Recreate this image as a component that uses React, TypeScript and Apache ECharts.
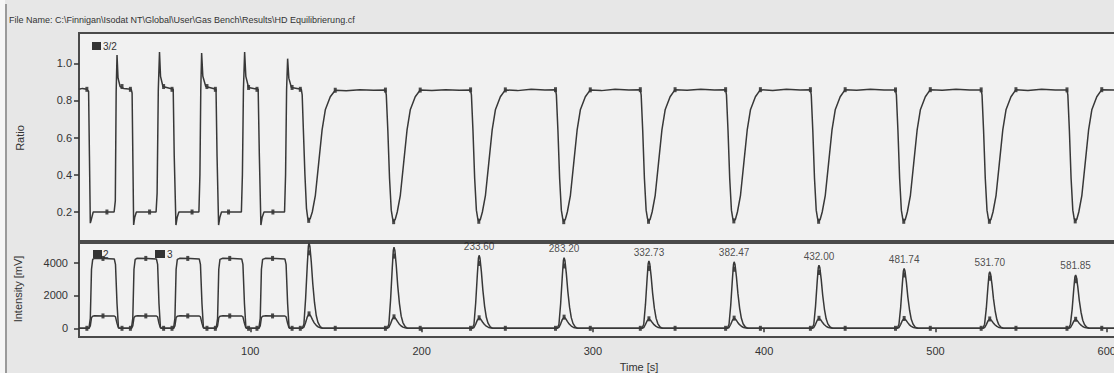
import React, { useEffect, useRef } from "react";
import * as echarts from "echarts";

// ---------- data ----------
const fileName = "File Name: C:\\Finnigan\\Isodat NT\\Global\\User\\Gas Bench\\Results\\HD Equilibrierung.cf";

const xTicks = [100, 200, 300, 400, 500, 600];
const ratioTicks = [0.2, 0.4, 0.6, 0.8, 1.0];
const intensityTicks = [0, 2000, 4000];

// ratio 3/2 : square-wave part (reference pulses)
const ratioSquare: number[][] = [
  [0, 0.86], [2, 0.865], [4.5, 0.86], [5.6, 0.85], [6.1, 0.5], [6.6, 0.14], [7.2, 0.16], [8.3, 0.2], [14, 0.2], [20.5, 0.2],
  [21.2, 0.26], [21.7, 0.85], [22.2, 1.045], [22.8, 0.92], [24, 0.875], [26, 0.865], [30.5, 0.86],
  [31.0, 0.84], [31.5, 0.45], [31.9, 0.13], [32.5, 0.17], [33.5, 0.2], [45.0, 0.2],
  [45.6, 0.3], [46.3, 0.86], [47.0, 1.06], [47.6, 0.93], [49, 0.875], [55.0, 0.86],
  [55.6, 0.5], [56.6, 0.13], [57.3, 0.17], [58.3, 0.2], [70.0, 0.2],
  [70.6, 0.4], [71.1, 0.86], [71.6, 1.055], [72.3, 0.93], [74, 0.875], [80.0, 0.86],
  [80.6, 0.5], [81.5, 0.13], [82.2, 0.17], [83.2, 0.2], [94.8, 0.2],
  [95.4, 0.4], [96.0, 0.86], [96.7, 1.06], [97.4, 0.93], [99, 0.87], [104.6, 0.86],
  [105.3, 0.5], [106.2, 0.13], [106.9, 0.17], [108, 0.2], [120.0, 0.2],
  [120.6, 0.4], [121.2, 0.86], [121.8, 1.025], [122.5, 0.92], [124, 0.87], [129.8, 0.86],
];

// ratio 3/2 : sample peaks (dips)
const ratioDips: number[][] = [
  [130.3, 0.83], [131.0, 0.64], [131.9, 0.4], [132.8, 0.22], [133.5, 0.17], [134.1, 0.155], [135.0, 0.165], [136.2, 0.2], [138.0, 0.29], [139.9, 0.46], [141.9, 0.64], [143.8, 0.75], [146.7, 0.82], [149.6, 0.855], [156, 0.852], [164, 0.858], [172, 0.855],
  [178.9, 0.856], [179.4, 0.83], [180.3, 0.64], [181.3, 0.38], [182.3, 0.21], [183.1, 0.165], [183.7, 0.148], [184.6, 0.16], [185.8, 0.2], [187.6, 0.29], [189.5, 0.46], [191.5, 0.64], [193.4, 0.75], [196.3, 0.82], [199.2, 0.856], [206, 0.853], [214, 0.858], [222, 0.855],
  [228.6, 0.857], [229.1, 0.83], [230.0, 0.64], [231.0, 0.38], [232.0, 0.21], [232.8, 0.165], [233.4, 0.15], [234.3, 0.16], [235.5, 0.2], [237.3, 0.29], [239.2, 0.46], [241.2, 0.64], [243.1, 0.75], [246.0, 0.82], [248.9, 0.857], [256, 0.853], [264, 0.86], [272, 0.856],
  [278.2, 0.858], [278.7, 0.83], [279.6, 0.64], [280.6, 0.38], [281.6, 0.21], [282.4, 0.165], [283.0, 0.148], [283.9, 0.16], [285.1, 0.2], [286.9, 0.29], [288.8, 0.46], [290.8, 0.64], [292.7, 0.75], [295.6, 0.82], [298.5, 0.857], [305, 0.853], [313, 0.86], [321, 0.856],
  [327.7, 0.858], [328.2, 0.83], [329.1, 0.64], [330.1, 0.38], [331.1, 0.21], [331.9, 0.165], [332.5, 0.15], [333.4, 0.16], [334.6, 0.2], [336.4, 0.29], [338.3, 0.46], [340.3, 0.64], [342.2, 0.75], [345.1, 0.82], [348.0, 0.858], [355, 0.855], [363, 0.86], [371, 0.857],
  [377.5, 0.858], [378.0, 0.83], [378.9, 0.64], [379.9, 0.38], [380.9, 0.21], [381.7, 0.165], [382.3, 0.152], [383.2, 0.16], [384.4, 0.2], [386.2, 0.29], [388.1, 0.46], [390.1, 0.64], [392.0, 0.75], [394.9, 0.82], [397.8, 0.858], [405, 0.854], [413, 0.86], [421, 0.857],
  [427.0, 0.858], [427.5, 0.83], [428.4, 0.64], [429.4, 0.38], [430.4, 0.21], [431.2, 0.165], [431.8, 0.15], [432.7, 0.16], [433.9, 0.2], [435.7, 0.29], [437.6, 0.46], [439.6, 0.64], [441.5, 0.75], [444.4, 0.82], [447.3, 0.858], [454, 0.855], [462, 0.86], [470, 0.856],
  [476.7, 0.857], [477.2, 0.83], [478.1, 0.64], [479.1, 0.38], [480.1, 0.21], [480.9, 0.165], [481.5, 0.15], [482.4, 0.16], [483.6, 0.2], [485.4, 0.29], [487.3, 0.46], [489.3, 0.64], [491.2, 0.75], [494.1, 0.82], [497.0, 0.858], [504, 0.855], [512, 0.86], [520, 0.857],
  [526.7, 0.857], [527.2, 0.83], [528.1, 0.64], [529.1, 0.38], [530.1, 0.21], [530.9, 0.165], [531.5, 0.15], [532.4, 0.16], [533.6, 0.2], [535.4, 0.29], [537.3, 0.46], [539.3, 0.64], [541.2, 0.75], [544.1, 0.82], [547.0, 0.858], [554, 0.854], [562, 0.86], [570, 0.856],
  [576.8, 0.857], [577.3, 0.83], [578.2, 0.64], [579.2, 0.38], [580.2, 0.21], [581.0, 0.165], [581.6, 0.152], [582.5, 0.16], [583.7, 0.2], [585.5, 0.29], [587.4, 0.46], [589.4, 0.64], [591.3, 0.75], [594.2, 0.82], [597.1, 0.858], [606, 0.856],
];

// markers drawn on the ratio trace
const ratioMarks: number[][] = [
  [4.6, 0.86], [16.3, 0.2], [25.1, 0.875], [30, 0.86], [41.2, 0.2], [49.4, 0.875], [54.3, 0.86], [66, 0.2], [74.7, 0.875], [79.6, 0.86],
  [87.3, 0.2], [99, 0.87], [103.9, 0.86], [113.2, 0.2], [124.4, 0.87], [129.2, 0.86],
  [134.1, 0.155], [149.6, 0.855], [178.9, 0.856], [183.7, 0.148], [199.2, 0.856], [228.6, 0.857], [233.4, 0.15], [248.9, 0.857],
  [278.2, 0.858], [283.0, 0.148], [298.5, 0.857], [327.7, 0.858], [332.5, 0.15], [348.0, 0.858], [377.5, 0.858], [382.3, 0.152], [397.8, 0.858],
  [427.0, 0.858], [431.8, 0.15], [447.3, 0.858], [476.7, 0.857], [481.5, 0.15], [497.0, 0.858], [526.7, 0.857], [531.5, 0.15], [547.0, 0.858],
  [576.8, 0.857], [581.6, 0.152], [597.1, 0.858],
];

// intensity mass 2 (large trace)
const mass2Square: number[][] = [
  [0, 0], [5.8, 0], [6.6, 600], [7.3, 3600], [8.0, 4200], [9, 4270], [15, 4260], [20.6, 4230], [21.3, 3900], [22.2, 1500], [23.0, 100], [23.6, 0],
  [30.6, 0], [31.4, 600], [32.1, 3600], [32.8, 4200], [34, 4270], [40, 4260], [45.2, 4230], [45.9, 3900], [46.7, 1500], [47.5, 100], [48.1, 0],
  [55.2, 0], [56.0, 600], [56.7, 3600], [57.4, 4200], [59, 4270], [65, 4260], [70.2, 4230], [70.9, 3900], [71.8, 1500], [72.6, 100], [73.2, 0],
  [80.1, 0], [80.9, 600], [81.6, 3600], [82.3, 4200], [84, 4270], [90, 4260], [95.0, 4230], [95.7, 3900], [96.6, 1500], [97.4, 100], [98, 0],
  [105.0, 0], [105.8, 600], [106.5, 3600], [107.2, 4200], [109, 4270], [115, 4260], [120.2, 4230], [120.9, 3900], [121.8, 1500], [122.6, 100], [123.2, 0],
];
const mass2Peaks: number[][] = [
  [130.3, 0], [131.3, 250], [132.3, 1820], [133.3, 3900], [133.9, 4990], [134.3, 5200], [134.8, 4990], [135.6, 4060], [136.5, 2700], [137.5, 1560], [138.5, 780], [139.5, 360], [140.8, 100], [142.3, 0],
  [179.9, 0], [180.9, 250], [181.9, 1730], [182.9, 3710], [183.5, 4750], [183.9, 4950], [184.4, 4750], [185.2, 3860], [186.1, 2570], [187.1, 1490], [188.1, 740], [189.1, 350], [190.4, 100], [191.9, 0],
  [229.6, 0], [230.6, 250], [231.6, 1560], [232.6, 3340], [233.2, 4270], [233.6, 4450], [234.1, 4270], [234.9, 3470], [235.8, 2310], [236.8, 1340], [237.8, 670], [238.8, 310], [240.1, 90], [241.6, 0],
  [279.2, 0], [280.2, 250], [281.2, 1510], [282.2, 3230], [282.8, 4130], [283.2, 4300], [283.7, 4130], [284.5, 3350], [285.4, 2240], [286.4, 1290], [287.4, 650], [288.4, 300], [289.7, 90], [291.2, 0],
  [328.7, 0], [329.7, 250], [330.7, 1440], [331.7, 3080], [332.3, 3940], [332.73, 4100], [333.2, 3940], [334.0, 3200], [334.9, 2130], [335.9, 1230], [336.9, 620], [337.9, 290], [339.2, 80], [340.7, 0],
  [378.5, 0], [379.5, 250], [380.5, 1420], [381.5, 3040], [382.1, 3890], [382.47, 4050], [383.0, 3890], [383.8, 3160], [384.7, 2110], [385.7, 1220], [386.7, 610], [387.7, 280], [389.0, 80], [390.5, 0],
  [428.0, 0], [429.0, 250], [430.0, 1350], [431.0, 2890], [431.6, 3700], [432.0, 3850], [432.5, 3700], [433.3, 3000], [434.2, 2000], [435.2, 1160], [436.2, 580], [437.2, 270], [438.5, 80], [440.0, 0],
  [477.7, 0], [478.7, 250], [479.7, 1280], [480.7, 2740], [481.3, 3500], [481.74, 3650], [482.2, 3500], [483.0, 2850], [483.9, 1900], [484.9, 1100], [485.9, 550], [486.9, 260], [488.2, 70], [489.7, 0],
  [527.7, 0], [528.7, 250], [529.7, 1210], [530.7, 2590], [531.3, 3310], [531.7, 3450], [532.2, 3310], [533.0, 2690], [533.9, 1790], [534.9, 1040], [535.9, 520], [536.9, 240], [538.2, 70], [539.7, 0],
  [577.8, 0], [578.8, 250], [579.8, 1140], [580.8, 2440], [581.4, 3120], [581.85, 3250], [582.3, 3120], [583.1, 2540], [584.0, 1690], [585.0, 980], [586.0, 490], [587.0, 230], [588.3, 70], [589.8, 0], [606, 0],
];

// intensity mass 3 (small trace)
const mass3Square: number[][] = [
  [0, 0], [5.8, 0], [6.6, 150], [7.3, 650], [8.0, 740], [9, 760], [15, 755], [20.6, 750], [21.3, 700], [22.2, 300], [23.0, 30], [23.6, 0],
  [30.6, 0], [31.4, 150], [32.1, 650], [32.8, 740], [34, 760], [40, 755], [45.2, 750], [45.9, 700], [46.7, 300], [47.5, 30], [48.1, 0],
  [55.2, 0], [56.0, 150], [56.7, 650], [57.4, 740], [59, 760], [65, 755], [70.2, 750], [70.9, 700], [71.8, 300], [72.6, 30], [73.2, 0],
  [80.1, 0], [80.9, 150], [81.6, 650], [82.3, 740], [84, 760], [90, 755], [95.0, 750], [95.7, 700], [96.6, 300], [97.4, 30], [98, 0],
  [105.0, 0], [105.8, 150], [106.5, 650], [107.2, 740], [109, 760], [115, 755], [120.2, 750], [120.9, 700], [121.8, 300], [122.6, 30], [123.2, 0],
];
const mass3Peaks: number[][] = [
  [130.3, 0], [131.3, 70], [132.3, 350], [133.3, 700], [134.3, 880], [135.3, 750], [136.3, 530], [137.3, 330], [138.5, 180], [139.8, 70], [141.3, 20], [142.8, 0],
  [179.9, 0], [180.9, 56], [181.9, 280], [182.9, 560], [183.9, 700], [184.9, 595], [185.9, 420], [186.9, 266], [188.1, 140], [189.4, 56], [190.9, 14], [192.4, 0],
  [229.6, 0], [230.6, 51], [231.6, 256], [232.6, 512], [233.6, 640], [234.6, 544], [235.6, 384], [236.6, 243], [237.8, 128], [239.1, 51], [240.6, 13], [242.1, 0],
  [279.2, 0], [280.2, 54], [281.2, 272], [282.2, 544], [283.2, 680], [284.2, 578], [285.2, 408], [286.2, 258], [287.4, 136], [288.7, 54], [290.2, 14], [291.7, 0],
  [328.7, 0], [329.7, 46], [330.7, 232], [331.7, 464], [332.73, 580], [333.7, 493], [334.7, 348], [335.7, 220], [336.9, 116], [338.2, 46], [339.7, 12], [341.2, 0],
  [378.5, 0], [379.5, 50], [380.5, 248], [381.5, 496], [382.47, 620], [383.5, 527], [384.5, 372], [385.5, 236], [386.7, 124], [388.0, 50], [389.5, 12], [391.0, 0],
  [428.0, 0], [429.0, 49], [430.0, 244], [431.0, 488], [432.0, 610], [433.0, 519], [434.0, 366], [435.0, 232], [436.2, 122], [437.5, 49], [439.0, 12], [440.5, 0],
  [477.7, 0], [478.7, 48], [479.7, 240], [480.7, 480], [481.74, 600], [482.7, 510], [483.7, 360], [484.7, 228], [485.9, 120], [487.2, 48], [488.7, 12], [490.2, 0],
  [527.7, 0], [528.7, 46], [529.7, 228], [530.7, 456], [531.7, 570], [532.7, 485], [533.7, 342], [534.7, 217], [535.9, 114], [537.2, 46], [538.7, 11], [540.2, 0],
  [577.8, 0], [578.8, 44], [579.8, 220], [580.8, 440], [581.85, 550], [582.8, 468], [583.8, 330], [584.8, 209], [586.0, 110], [587.3, 44], [588.8, 11], [590.3, 0], [606, 0],
];

// markers on the intensity traces (baseline start/end, apexes, plateau mids)
const intensityMarks: number[][] = [
  [4.6, 0], [25.1, 0], [30, 0], [49.4, 0], [54.3, 0], [74.7, 0], [79.6, 0], [99, 0], [103.9, 0], [124.4, 0], [129.2, 0],
  [14, 4260], [39, 4260], [63.5, 4260], [88, 4260], [113, 4260],
  [14, 755], [39, 755], [63.5, 755], [88, 755], [113, 755],
  [149.6, 0], [178.9, 0], [199.2, 0], [228.6, 0], [248.9, 0], [278.2, 0], [298.5, 0], [327.7, 0], [348.0, 0], [377.5, 0], [397.8, 0],
  [427.0, 0], [447.3, 0], [476.7, 0], [497.0, 0], [526.7, 0], [547.0, 0], [576.8, 0], [597.1, 0],
  [134.5, 4600], [184.1, 4400], [233.8, 3950], [283.4, 3800], [332.9, 3650], [382.6, 3600], [432.2, 3400], [481.9, 3250], [531.9, 3050], [582.0, 2900],
  [134.3, 880], [183.9, 700], [233.6, 640], [283.2, 680], [332.73, 580], [382.47, 620], [432.0, 610], [481.74, 600], [531.7, 570], [581.85, 550],
];

// labelled peak apex times (visible ones) and their heights
const peakTimes = [233.6, 283.2, 332.73, 382.47, 432.0, 481.74, 531.7, 581.85];
const peakHeights = [4450, 4300, 4100, 4050, 3850, 3650, 3450, 3250];

// ---------- chart ----------
const INK = "#383838";
const FONT = "'Liberation Sans', Arial, sans-serif";

export default function App() {
  const ref = useRef<HTMLDivElement>(null);

  useEffect(() => {
    if (!ref.current) return;
    const chart = echarts.init(ref.current, undefined, { renderer: "svg" });

    const labelData = peakTimes.map((t, i) => ({
      value: [t, peakHeights[i]],
      label: { formatter: t.toFixed(2) },
    }));

    const tickStyle = { show: true, length: 5, lineStyle: { color: "#333", width: 1.5 } };

    chart.setOption({
      animation: false,
      backgroundColor: "#e7e7e7",
      textStyle: { fontFamily: FONT },
      grid: [
        { left: 79, right: 3, top: 33, height: 208, show: true, backgroundColor: "#f1f1f1", borderColor: "#4a4a4a", borderWidth: 2 },
        { left: 79, right: 3, top: 243, height: 94, show: true, backgroundColor: "#f1f1f1", borderColor: "#4a4a4a", borderWidth: 2 },
      ],
      xAxis: [
        { type: "value", gridIndex: 0, min: 0, max: 606, show: false },
        {
          type: "value", gridIndex: 1, min: 0, max: 606,
          axisLine: { show: false },
          splitLine: { show: false },
          axisTick: { show: true, length: 4, customValues: xTicks, lineStyle: { color: "#333", width: 1.5 } },
          axisLabel: { customValues: xTicks, color: "#333", fontSize: 11, margin: 8, fontFamily: FONT, formatter: (v: number) => String(v) },
        },
      ],
      yAxis: [
        {
          type: "value", gridIndex: 0, min: 0.044, max: 1.163,
          axisLine: { show: false }, splitLine: { show: false },
          axisTick: { ...tickStyle, customValues: ratioTicks },
          axisLabel: { customValues: ratioTicks, color: "#333", fontSize: 11, margin: 7, fontFamily: FONT, formatter: (v: number) => v.toFixed(1) },
        },
        {
          type: "value", gridIndex: 1, min: -530, max: 5200,
          axisLine: { show: false }, splitLine: { show: false },
          axisTick: { ...tickStyle, customValues: intensityTicks },
          axisLabel: { customValues: intensityTicks, color: "#333", fontSize: 11, margin: 11, fontFamily: FONT, formatter: (v: number) => String(v) },
        },
      ],
      series: [
        {
          type: "line", xAxisIndex: 0, yAxisIndex: 0, showSymbol: false,
          data: [...ratioSquare, ...ratioDips],
          lineStyle: { color: INK, width: 1.5 },
        },
        {
          type: "scatter", xAxisIndex: 0, yAxisIndex: 0, data: ratioMarks,
          symbol: "rect", symbolSize: [3, 5], itemStyle: { color: "#222" },
        },
        {
          type: "line", xAxisIndex: 1, yAxisIndex: 1, showSymbol: false,
          data: [...mass2Square, ...mass2Peaks],
          lineStyle: { color: INK, width: 1.5 },
        },
        {
          type: "line", xAxisIndex: 1, yAxisIndex: 1, showSymbol: false,
          data: [...mass3Square, ...mass3Peaks],
          lineStyle: { color: INK, width: 1.5 },
        },
        {
          type: "scatter", xAxisIndex: 1, yAxisIndex: 1, data: intensityMarks,
          symbol: "rect", symbolSize: [3, 5], itemStyle: { color: "#222" },
        },
        {
          type: "scatter", xAxisIndex: 1, yAxisIndex: 1, data: labelData,
          symbolSize: 0,
          label: { show: true, position: "top", distance: 4, color: "#222", fontSize: 10, fontFamily: FONT },
          z: 5,
        },
      ],
      graphic: [
        { type: "rect", shape: { x: 0, y: 0, width: 5, height: 373 }, style: { fill: "#f6f6f6" }, silent: true },
        { type: "line", shape: { x1: 6, y1: 4, x2: 6, y2: 373 }, style: { stroke: "#9a9a9a", lineWidth: 2 }, silent: true },
        { type: "text", x: 9, y: 20, style: { text: fileName, font: `9px ${FONT}`, fill: "#333", textVerticalAlign: "middle" } },
        // legends
        { type: "rect", shape: { x: 92, y: 42, width: 9, height: 8 }, style: { fill: "#333" } },
        { type: "text", x: 103, y: 46, style: { text: "3/2", font: `10px ${FONT}`, fill: "#333", textVerticalAlign: "middle" } },
        { type: "rect", shape: { x: 93, y: 250, width: 9, height: 8 }, style: { fill: "#333" } },
        { type: "text", x: 103, y: 254, style: { text: "2", font: `10px ${FONT}`, fill: "#333", textVerticalAlign: "middle" } },
        { type: "rect", shape: { x: 155, y: 250, width: 10, height: 8 }, style: { fill: "#333" } },
        { type: "text", x: 167, y: 254, style: { text: "3", font: `10px ${FONT}`, fill: "#333", textVerticalAlign: "middle" } },
        // axis titles
        { type: "text", x: 20, y: 138, rotation: Math.PI / 2, style: { text: "Ratio", font: `11px ${FONT}`, fill: "#333", textAlign: "center", textVerticalAlign: "middle" } },
        { type: "text", x: 18, y: 289, rotation: Math.PI / 2, style: { text: "Intensity [mV]", font: `11px ${FONT}`, fill: "#333", textAlign: "center", textVerticalAlign: "middle" } },
        { type: "text", x: 639, y: 367, style: { text: "Time [s]", font: `11px ${FONT}`, fill: "#333", textAlign: "center", textVerticalAlign: "middle" } },
      ],
    });

    return () => chart.dispose();
  }, []);

  return (
    <div style={{ position: "fixed", left: 0, top: 0, width: 1114, height: 373, overflow: "hidden" }}>
      <div ref={ref} style={{ width: 1120, height: 373 }} />
    </div>
  );
}
